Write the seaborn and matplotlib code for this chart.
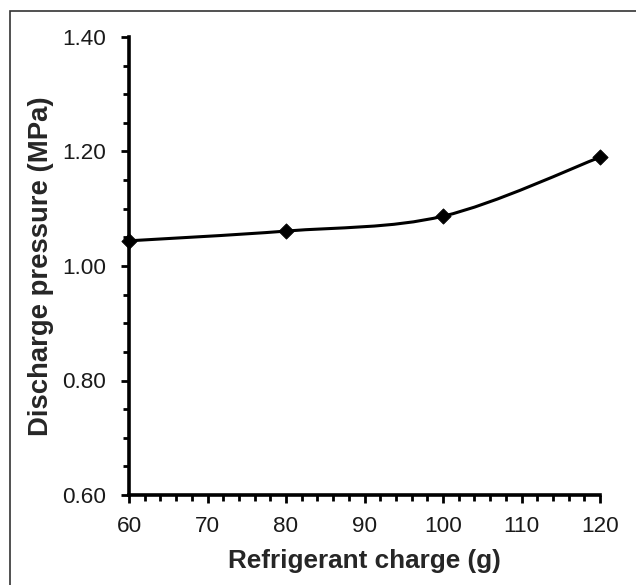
import numpy as np
import pandas as pd
import seaborn as sns
import matplotlib
matplotlib.use("Agg")
import matplotlib.pyplot as plt
from matplotlib.path import Path
from matplotlib.patches import PathPatch, Rectangle
from matplotlib.ticker import MultipleLocator, FormatStrFormatter

charge = [60, 80, 100, 120]
pressure = [1.044, 1.061, 1.087, 1.190]
x_label = "Refrigerant charge (g)"
y_label = "Discharge pressure (MPa)"

sns.set_style("white")
plt.rcParams['font.family'] = ['Liberation Sans', 'DejaVu Sans']

df = pd.DataFrame({"charge": charge, "pressure": pressure})

fig = plt.figure(figsize=(6.36, 5.85), dpi=100)
ax = fig.add_axes([129/636, 1-495/585, (600-129)/636, (495-37)/585])

# smoothed line (Excel-style Bezier through the data points)
xs = np.array(charge, dtype=float)
ys = np.array(pressure, dtype=float)
verts = [(xs[0], ys[0])]
codes = [Path.MOVETO]
n = len(xs)
for i in range(n - 1):
    p0 = (xs[max(i-1, 0)], ys[max(i-1, 0)])
    p1 = (xs[i], ys[i])
    p2 = (xs[i+1], ys[i+1])
    p3 = (xs[min(i+2, n-1)], ys[min(i+2, n-1)])
    c1 = (p1[0] + (p2[0]-p0[0])/6, p1[1] + (p2[1]-p0[1])/6)
    c2 = (p2[0] - (p3[0]-p1[0])/6, p2[1] - (p3[1]-p1[1])/6)
    verts += [c1, c2, p2]
    codes += [Path.CURVE4]*3
ax.add_patch(PathPatch(Path(verts, codes), fill=False, edgecolor='black', lw=2.2, zorder=3, clip_on=False))

sns.scatterplot(data=df, x="charge", y="pressure", marker='D', s=60, color='black',
                edgecolor='black', ax=ax, zorder=4, clip_on=False, legend=False)

ax.set_xlim(60, 120)
ax.set_ylim(0.60, 1.40)
ax.xaxis.set_major_locator(MultipleLocator(10))
ax.xaxis.set_minor_locator(MultipleLocator(2))
ax.yaxis.set_major_locator(MultipleLocator(0.2))
ax.yaxis.set_minor_locator(MultipleLocator(0.05))
ax.yaxis.set_major_formatter(FormatStrFormatter('%.2f'))

for s in ['top', 'right']:
    ax.spines[s].set_visible(False)
for s in ['left', 'bottom']:
    ax.spines[s].set_linewidth(2.6)
    ax.spines[s].set_color('black')

ax.tick_params(axis='both', which='major', direction='out', length=5.5, width=2, color='black',
               labelsize=16.2, labelcolor='#1a1a1a', left=True, bottom=True)
ax.tick_params(axis='both', which='minor', direction='out', length=4, width=2, color='black',
               left=True, bottom=True)
ax.tick_params(axis='y', which='major', pad=11)
ax.tick_params(axis='x', which='major', pad=9.5)

ax.set_xlabel(x_label, fontsize=18.8, fontweight='bold', labelpad=9)
ax.set_ylabel(y_label, fontsize=19.8, fontweight='bold', labelpad=6)

fig.patches.append(Rectangle((10/636, -0.1), 1.2, 1.1 - 11/585, transform=fig.transFigure,
                             fill=False, edgecolor='#333333', lw=1.2))

fig.savefig("out.png", dpi=100)
